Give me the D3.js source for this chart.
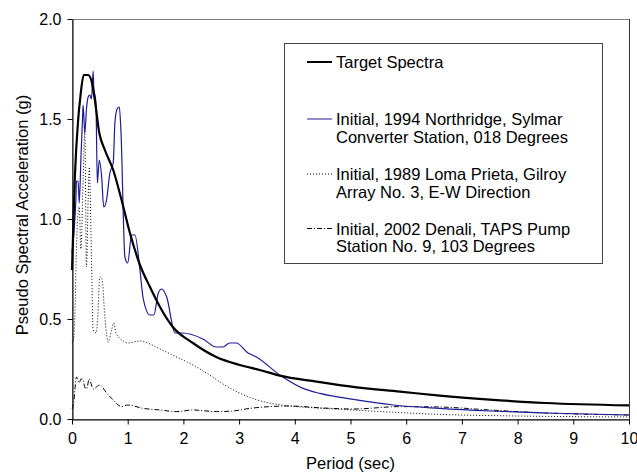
<!DOCTYPE html>
<html>
<head>
<meta charset="utf-8">
<script src="https://cdn.jsdelivr.net/npm/d3@7"></script>
<style>
  body { margin: 0; background: #fff; }
  text { font-family: "Liberation Sans", Arial, sans-serif; fill: #000; }
</style>
</head>
<body>
<svg id="chart" width="637" height="475"></svg>
<script>

// Target spectrum
var targetPeriod = [ 0, 0.05, 0.11, 0.15, 0.21, 0.29, 0.35, 0.41, 0.49, 0.59, 0.74, 0.89, 1.04, 1.22, 1.40, 1.58, 1.81, 2.17, 2.59, 3.01, 3.37, 3.73, 4.39, 5.11, 5.89, 6.6, 7.5, 8.5, 10 ];
var targetSa = [ 0.745, 1.2, 1.495, 1.61, 1.72, 1.72, 1.69, 1.595, 1.43, 1.345, 1.245, 1.095, 0.93, 0.77, 0.66, 0.56, 0.46, 0.38, 0.31, 0.27, 0.245, 0.217, 0.187, 0.158, 0.137, 0.117, 0.097, 0.08, 0.068 ];

// 1994 Northridge, Sylmar
var northPeriod = [ 0, 0.04, 0.07, 0.08, 0.11, 0.13, 0.16, 0.19, 0.2, 0.23, 0.26, 0.29, 0.32, 0.35, 0.38, 0.39, 0.43, 0.455, 0.49, 0.53, 0.57, 0.62, 0.68, 0.74, 0.77, 0.81, 0.85, 0.88, 0.95, 1.0, 1.07, 1.13, 1.22, 1.28, 1.40, 1.47, 1.55, 1.61, 1.70, 1.85, 1.99, 2.35, 2.59, 2.71, 2.83, 2.95, 3.16, 3.31, 3.73, 4.15, 4.45, 5.05, 5.77, 6.6, 7.5, 8.5, 10 ];
var northSa = [ 0.83, 0.95, 1.1, 1.19, 1.19, 1.08, 1.3, 1.51, 1.57, 1.43, 1.55, 1.61, 1.62, 1.6, 1.74, 1.66, 1.58, 1.18, 1.295, 1.22, 1.06, 1.095, 1.23, 1.28, 1.48, 1.55, 1.56, 1.43, 0.81, 0.78, 0.92, 0.92, 0.745, 0.60, 0.52, 0.52, 0.63, 0.65, 0.61, 0.43, 0.43, 0.40, 0.36, 0.36, 0.38, 0.38, 0.33, 0.31, 0.22, 0.153, 0.128, 0.098, 0.07, 0.053, 0.04, 0.03, 0.02 ];

// 1989 Loma Prieta, Gilroy
var lomaPeriod = [ 0, 0.03, 0.05, 0.08, 0.1, 0.13, 0.16, 0.2, 0.23, 0.26, 0.29, 0.31, 0.35, 0.38, 0.43, 0.46, 0.5, 0.54, 0.59, 0.65, 0.71, 0.75, 0.79, 0.92, 1.0, 1.22, 1.40, 1.58, 1.84, 2.17, 2.47, 2.77, 3.13, 3.43, 3.91, 4.39, 5.05, 6.6, 8, 10 ];
var lomaSa = [ 0.38, 0.4, 0.51, 0.85, 1.0, 1.06, 0.85, 1.2, 1.44, 0.76, 1.1, 1.26, 0.8, 0.445, 0.43, 0.5, 0.71, 0.70, 0.51, 0.385, 0.445, 0.48, 0.43, 0.39, 0.38, 0.39, 0.375, 0.35, 0.315, 0.27, 0.22, 0.165, 0.115, 0.087, 0.065, 0.055, 0.045, 0.023, 0.015, 0.01 ];

// 2002 Denali, TAPS Pump Station
var denaliPeriod = [ 0, 0.03, 0.06, 0.08, 0.13, 0.16, 0.19, 0.23, 0.26, 0.31, 0.35, 0.38, 0.5, 0.62, 0.74, 0.89, 1.0, 1.28, 1.58, 1.87, 2.17, 2.59, 2.89, 3.19, 3.91, 4.51, 5.05, 5.89, 6.6, 7.5, 8.5, 10 ];
var denaliSa = [ 0.05, 0.08, 0.17, 0.21, 0.18, 0.2, 0.2, 0.16, 0.15, 0.2, 0.17, 0.15, 0.17, 0.13, 0.095, 0.062, 0.07, 0.053, 0.045, 0.037, 0.045, 0.037, 0.04, 0.053, 0.065, 0.055, 0.05, 0.062, 0.06, 0.045, 0.03, 0.02 ];

var xTicks = [ 0, 1, 2, 3, 4, 5, 6, 7, 8, 9, 10 ];
var yTicks = [ 0, 0.5, 1.0, 1.5, 2.0 ];

var legendLabels = [
  [ "Target Spectra" ],
  [ "Initial, 1994 Northridge, Sylmar", "Converter Station, 018 Degrees" ],
  [ "Initial, 1989 Loma Prieta, Gilroy", "Array No. 3, E-W Direction" ],
  [ "Initial, 2002 Denali, TAPS Pump", "Station No. 9, 103 Degrees" ]
];

var svg = d3.select( "#chart" );

var plotLeft = 72, plotRight = 629, plotTop = 19, plotBottom = 419;

var x = d3.scaleLinear().domain( [ 0, 10 ] ).range( [ plotLeft, plotRight ] );
var y = d3.scaleLinear().domain( [ 0, 2 ] ).range( [ plotBottom, plotTop ] );

// plot area border
svg.append( "rect" )
  .attr( "x", plotLeft + 0.5 )
  .attr( "y", plotTop + 0.5 )
  .attr( "width", plotRight - plotLeft )
  .attr( "height", plotBottom - plotTop )
  .attr( "fill", "none" )
  .attr( "stroke", "#808080" )
  .attr( "stroke-width", 1 );

svg.append( "line" )
  .attr( "x1", plotRight + 0.5 ).attr( "x2", plotRight + 0.5 )
  .attr( "y1", plotTop ).attr( "y2", plotBottom )
  .attr( "stroke", "#333" );

// series
var series = [
  { px: lomaPeriod, sa: lomaSa, color: "#000", width: 1, dash: "1,2" },
  { px: denaliPeriod, sa: denaliSa, color: "#000", width: 1, dash: "5,2,1,2" },
  { px: northPeriod, sa: northSa, color: "#1c1c96", width: 1.2, dash: null },
  { px: targetPeriod, sa: targetSa, color: "#000", width: 2.2, dash: null }
];

var line = d3.line()
  .x( d => x( d[ 0 ] ) )
  .y( d => y( d[ 1 ] ) )
  .curve( d3.curveMonotoneX );

svg.selectAll( "path.series" )
  .data( series )
  .enter().append( "path" )
    .attr( "class", "series" )
    .attr( "d", s => line( s.px.map( ( p, i ) => [ p, s.sa[ i ] ] ) ) )
    .attr( "fill", "none" )
    .attr( "stroke", s => s.color )
    .attr( "stroke-width", s => s.width )
    .attr( "stroke-dasharray", s => s.dash );

// axes
var xAxis = svg.append( "g" )
  .attr( "transform", "translate(0," + ( plotBottom + 0.5 ) + ")" )
  .call( d3.axisBottom( x ).tickValues( xTicks ).tickSize( 5 ).tickSizeOuter( 0 ).tickPadding( 8 ).tickFormat( d3.format( "d" ) ) );

var yAxis = svg.append( "g" )
  .attr( "transform", "translate(" + ( plotLeft + 0.5 ) + ",0)" )
  .call( d3.axisLeft( y ).tickValues( yTicks ).tickSize( 5 ).tickSizeOuter( 0 ).tickPadding( 6 ).tickFormat( d3.format( ".1f" ) ) );

[ xAxis, yAxis ].forEach( g => {
  g.selectAll( "path, line" ).attr( "stroke", "#000" );
  g.selectAll( "text" )
    .style( "font-family", "'Liberation Sans', Arial, sans-serif" )
    .style( "font-size", "16px" )
    .attr( "fill", "#000" );
} );

// axis titles
svg.append( "text" )
  .attr( "x", ( plotLeft + plotRight ) / 2 )
  .attr( "y", 469 )
  .attr( "text-anchor", "middle" )
  .style( "font-size", "16.5px" )
  .text( "Period (sec)" );

svg.append( "text" )
  .attr( "transform", "translate(28," + ( ( plotTop + plotBottom ) / 2 - 4 ) + ") rotate(-90)" )
  .attr( "text-anchor", "middle" )
  .style( "font-size", "16.5px" )
  .text( "Pseudo Spectral Acceleration (g)" );

// legend
var legend = svg.append( "g" );

legend.append( "rect" )
  .attr( "x", 284.5 )
  .attr( "y", 43.5 )
  .attr( "width", 318 )
  .attr( "height", 220 )
  .attr( "fill", "#fff" )
  .attr( "stroke", "#444" )
  .attr( "stroke-width", 1 );

var rowY = [ 62, 119, 174, 228.5 ];
var legendStyles = [ series[ 3 ], series[ 2 ], series[ 0 ], series[ 1 ] ];

legendLabels.forEach( ( lines, i ) => {
  var s = legendStyles[ i ];
  legend.append( "line" )
    .attr( "x1", 307 ).attr( "x2", 332 )
    .attr( "y1", rowY[ i ] ).attr( "y2", rowY[ i ] )
    .attr( "stroke", s.color )
    .attr( "stroke-width", i === 0 ? 2 : 1 )
    .attr( "stroke-dasharray", s.dash );
  lines.forEach( ( t, j ) => {
    legend.append( "text" )
      .attr( "x", 336 )
      .attr( "y", rowY[ i ] + j * 17.7 + 6 )
      .style( "font-size", "16.5px" )
      .text( t );
  } );
} );

</script>
</body>
</html>
